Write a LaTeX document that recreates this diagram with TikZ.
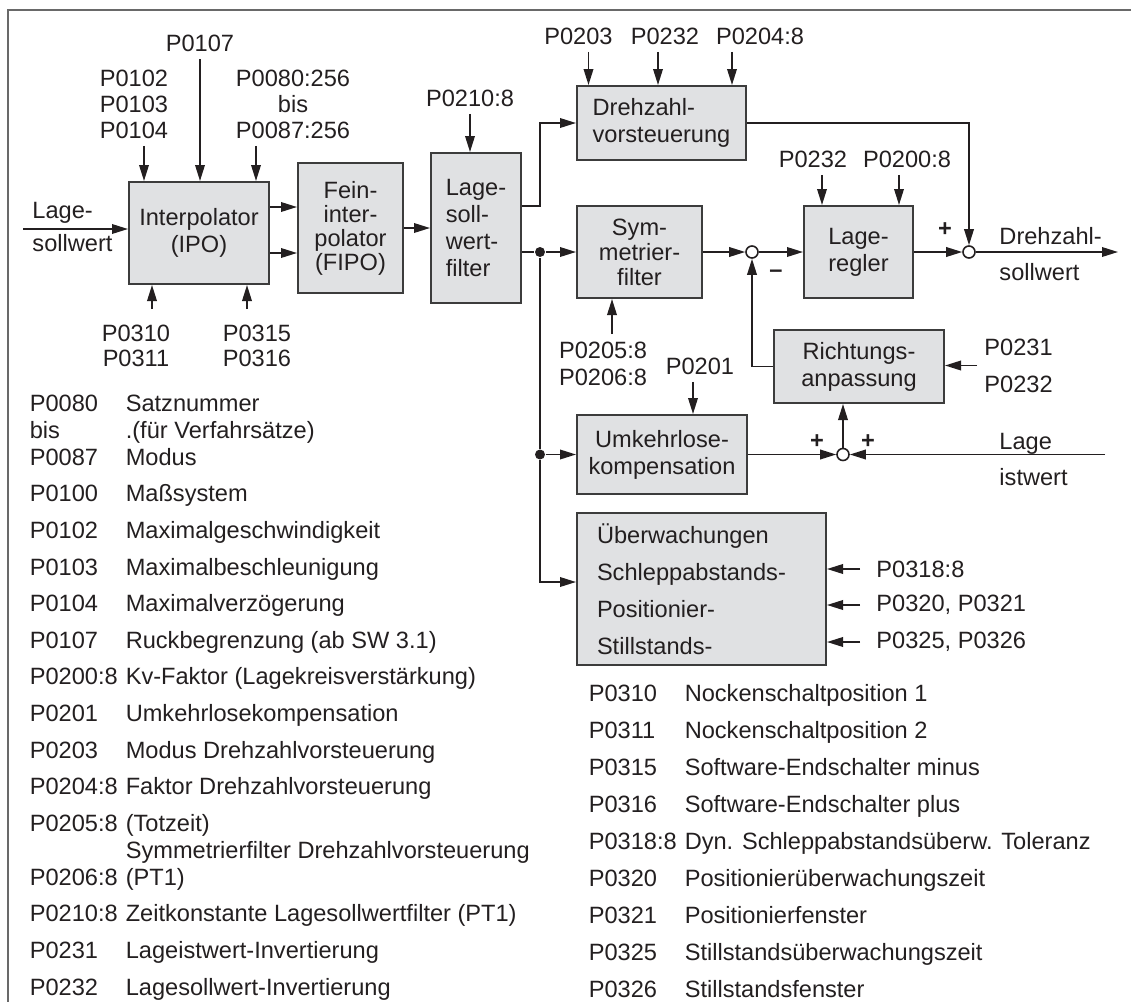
\documentclass[tikz,border=0pt]{standalone}
\usepackage{fontspec}
\setmainfont{Liberation Sans}
\usepackage{tikz}
\usetikzlibrary{arrows.meta}
\usepackage{xcolor}
\definecolor{mgray}{RGB}{224,225,227}
\definecolor{mbord}{RGB}{60,60,60}
\definecolor{mline}{RGB}{35,31,32}
\definecolor{mframe}{RGB}{105,105,105}

\begin{document}
\begin{tikzpicture}[
  x=0.5pt, y=-0.5pt,
  font=\fontsize{11.8}{13.5}\selectfont,
  color=mline, line width=0.8pt,
  box/.style={draw=mbord, fill=mgray, line width=1pt, align=center, inner sep=0pt},
  arr/.style={-{Triangle[length=8pt,width=4.8pt]}},
  sum/.style={circle, draw, fill=white, inner sep=0pt, minimum size=6pt},
  dot/.style={circle, fill, inner sep=0pt, minimum size=5pt},
  sgn/.style={font=\fontsize{11.8}{13.5}\selectfont\bfseries},
]
\useasboundingbox (0,0) rectangle (1131,1002);
\draw[mframe, line width=1pt] (8,1002) -- (8,10) -- (1131,10);

\node[box, minimum width=70pt, minimum height=51pt] (ipo) at (199,233) {Interpolator\\(IPO)};
\node[box, minimum width=52.5pt, minimum height=65pt] (fipo) at (350.5,228) {Fein-\\[-1.5pt]inter-\\[-1.5pt]polator\\[-1.5pt](FIPO)};
\node[box, minimum width=45pt, minimum height=75pt, align=left] (lsf) at (476,228) {Lage-\\soll-\\wert-\\filter};
\node[box, minimum width=84.5pt, minimum height=37pt, align=left] (dvs) at (661.5,123) {Drehzahl-\\vorsteuerung};
\node[box, minimum width=62.5pt, minimum height=46pt] (sym) at (639.5,252) {Sym-\\[-1pt]metrier-\\[-1pt]filter};
\node[box, minimum width=54.5pt, minimum height=46pt] (lr) at (858.5,252) {Lage-\\regler};
\node[box, minimum width=85pt, minimum height=36.5pt] (ra) at (859,366.5) {Richtungs-\\anpassung};
\node[box, minimum width=85pt, minimum height=39.5pt] (uk) at (662,454.5) {Umkehrlose-\\kompensation};
\node[box, minimum width=124.5pt, minimum height=76pt, text width=104.5pt, align=left] (ueb) at (701.5,589)
  {Überwachungen\\[5pt]Schleppabstands-\\[5pt]Positionier-\\[5pt]Stillstands-};

\node[dot] (d1) at (540,252) {};
\node[dot] (d2) at (540,454.5) {};
\node[sum] (c1) at (752,252) {};
\node[sum] (c2) at (969,252) {};
\node[sum] (c3) at (843,454.5) {};
\coordinate (ein) at (23,229);
\coordinate (aus) at (1118,252);
\coordinate (ist) at (1105,454.5);

\node (p0107) at (200,43.5) {P0107};
\node[align=center] (p0102) at (134,104) {P0102\\[-0.5pt]P0103\\[-0.5pt]P0104};
\node[align=center] (p0080) at (293,104) {P0080:256\\[-0.5pt]bis\\[-0.5pt]P0087:256};
\node[align=center] (p0310) at (136,345.5) {P0310\\[-1pt]P0311};
\node[align=center] (p0315) at (257,345.5) {P0315\\[-1pt]P0316};
\node (p0210) at (470,98) {P0210:8};
\node (p0203) at (578.5,36) {P0203};
\node (p0232a) at (665,36) {P0232};
\node (p0204) at (760,36) {P0204:8};
\node (p0232b) at (813,159) {P0232};
\node (p0200) at (907,159) {P0200:8};
\node[align=center] (p0205) at (603,363.5) {P0205:8\\P0206:8};
\node (p0201) at (700,366) {P0201};
\node[anchor=west, align=left] (p0231) at (977,365.5) {P0231\\[5pt]P0232};
\node[anchor=west] (p0318) at (869,569) {P0318:8};
\node[anchor=west] (p0320) at (869,605) {P0320, P0321};
\node[anchor=west] (p0325) at (869,642) {P0325, P0326};
\node[anchor=west, align=left] (lsw) at (25,227) {Lage-\\[3pt]sollwert};
\node[anchor=west, align=left] (dzs) at (992,254) {Drehzahl-\\[4.5pt]sollwert};
\node[anchor=west, align=left] (lis) at (992,459) {Lage\\[4.5pt]istwert};
\node[sgn] (pl1) at (945,230) {+};
\node[sgn] (pl2) at (817,442) {+};
\node[sgn] (pl3) at (868,442) {+};
\node[sgn] (mi1) at (776,274) {--};

\node[anchor=base west, inner sep=0pt] (leg1) at (29,411.3) {\begin{tabular}[t]{@{}p{48pt}@{}l@{}}
P0080 & Satznummer\\
bis & .(für Verfahrsätze)\\
P0087 & Modus\\[4.8pt]
P0100 & Maßsystem\\[4.8pt]
P0102 & Maximalgeschwindigkeit\\[4.8pt]
P0103 & Maximalbeschleunigung\\[4.8pt]
P0104 & Maximalverzögerung\\[4.8pt]
P0107 & Ruckbegrenzung (ab SW 3.1)\\[4.8pt]
P0200:8 & Kv-Faktor (Lagekreisverstärkung)\\[4.8pt]
P0201 & Umkehrlosekompensation\\[4.8pt]
P0203 & Modus Drehzahlvorsteuerung\\[4.8pt]
P0204:8 & Faktor Drehzahlvorsteuerung\\[4.8pt]
P0205:8 & (Totzeit)\\
 & Symmetrierfilter Drehzahlvorsteuerung\\
P0206:8 & (PT1)\\[4.8pt]
P0210:8 & Zeitkonstante Lagesollwertfilter (PT1)\\[4.8pt]
P0231 & Lageistwert-Invertierung\\[4.8pt]
P0232 & Lagesollwert-Invertierung
\end{tabular}};
\node[anchor=base west, inner sep=0pt] (leg2) at (588,701.3) {\begin{tabular}[t]{@{}p{48pt}@{}l@{}}
P0310 & Nockenschaltposition 1\\[5pt]
P0311 & Nockenschaltposition 2\\[5pt]
P0315 & Software-Endschalter minus\\[5pt]
P0316 & Software-Endschalter plus\\[5pt]
P0318:8 & Dyn. Schleppabstandsüberw. Toleranz\\[5pt]
P0320 & Positionierüberwachungszeit\\[5pt]
P0321 & Positionierfenster\\[5pt]
P0325 & Stillstandsüberwachungszeit\\[5pt]
P0326 & Stillstandsfenster
\end{tabular}};

\draw[arr] (ein) -- (ein -| ipo.west);
\draw[arr] (p0107.south) -- (p0107.south |- ipo.north);
\draw[arr] ([xshift=5pt]p0102.south) -- ([xshift=5pt]p0102.south |- ipo.north);
\draw[arr] ([xshift=-18.5pt]p0080.south) -- ([xshift=-18.5pt]p0080.south |- ipo.north);
\draw[arr] ([shift={(8pt,4pt)}]p0310.north) -- ([xshift=8pt]p0310.north |- ipo.south);
\draw[arr] ([shift={(-5pt,4pt)}]p0315.north) -- ([xshift=-5pt]p0315.north |- ipo.south);
\draw[arr] ([yshift=13pt]ipo.east) -- ([yshift=13pt]ipo.east -| fipo.west);
\draw[arr] ([yshift=-10pt]ipo.east) -- ([yshift=-10pt]ipo.east -| fipo.west);
\draw[arr] (fipo.east) -- (lsf.west);
\draw[arr] (p0210.south) -- (p0210.south |- lsf.north);
\draw[arr] ([yshift=11pt]lsf.east) -- ++(9pt,0) |- (dvs.west);
\draw[arr] ([xshift=5pt]p0203.south) -- ([xshift=5pt]p0203.south |- dvs.north);
\draw[arr] ([xshift=-3.5pt]p0232a.south) -- ([xshift=-3.5pt]p0232a.south |- dvs.north);
\draw[arr] ([xshift=-14pt]p0204.south) -- ([xshift=-14pt]p0204.south |- dvs.north);
\draw (lsf.east |- d1) -- (d1);
\draw[arr] (d1) -- (sym.west);
\draw (d1) -- (d2);
\draw[arr] (d2) -- (uk.west);
\draw[arr] (d2) |- ([yshift=3.5pt]ueb.west);
\draw[arr] ([xshift=4.5pt]p0205.north) -- ([xshift=4.5pt]p0205.north |- sym.south);
\draw[arr] ([xshift=-3.5pt]p0201.south) -- ([xshift=-3.5pt]p0201.south |- uk.north);
\draw[arr] (sym.east) -- (c1);
\draw[arr] (c1) -- (lr.west);
\draw[arr] ([xshift=4.5pt]p0232b.south) -- ([xshift=4.5pt]p0232b.south |- lr.north);
\draw[arr] ([xshift=-4pt]p0200.south) -- ([xshift=-4pt]p0200.south |- lr.north);
\draw[arr] (lr.east) -- (c2);
\draw[arr] (dvs.east) -| (c2);
\draw[arr] (c2) -- (aus);
\draw[arr] (ra.west) -| (c1);
\draw[arr] (p0231.west) -- (p0231.west -| ra.east);
\draw[arr] (uk.east |- c3) -- (c3);
\draw[arr] (ist) -- (c3);
\draw[arr] (c3) -- (c3 |- ra.south);
\draw[arr] ([xshift=-4.5pt]p0318.west) -- (p0318.west -| ueb.east);
\draw[arr] ([xshift=-4.5pt]p0320.west) -- (p0320.west -| ueb.east);
\draw[arr] ([xshift=-4.5pt]p0325.west) -- (p0325.west -| ueb.east);
\end{tikzpicture}
\end{document}
